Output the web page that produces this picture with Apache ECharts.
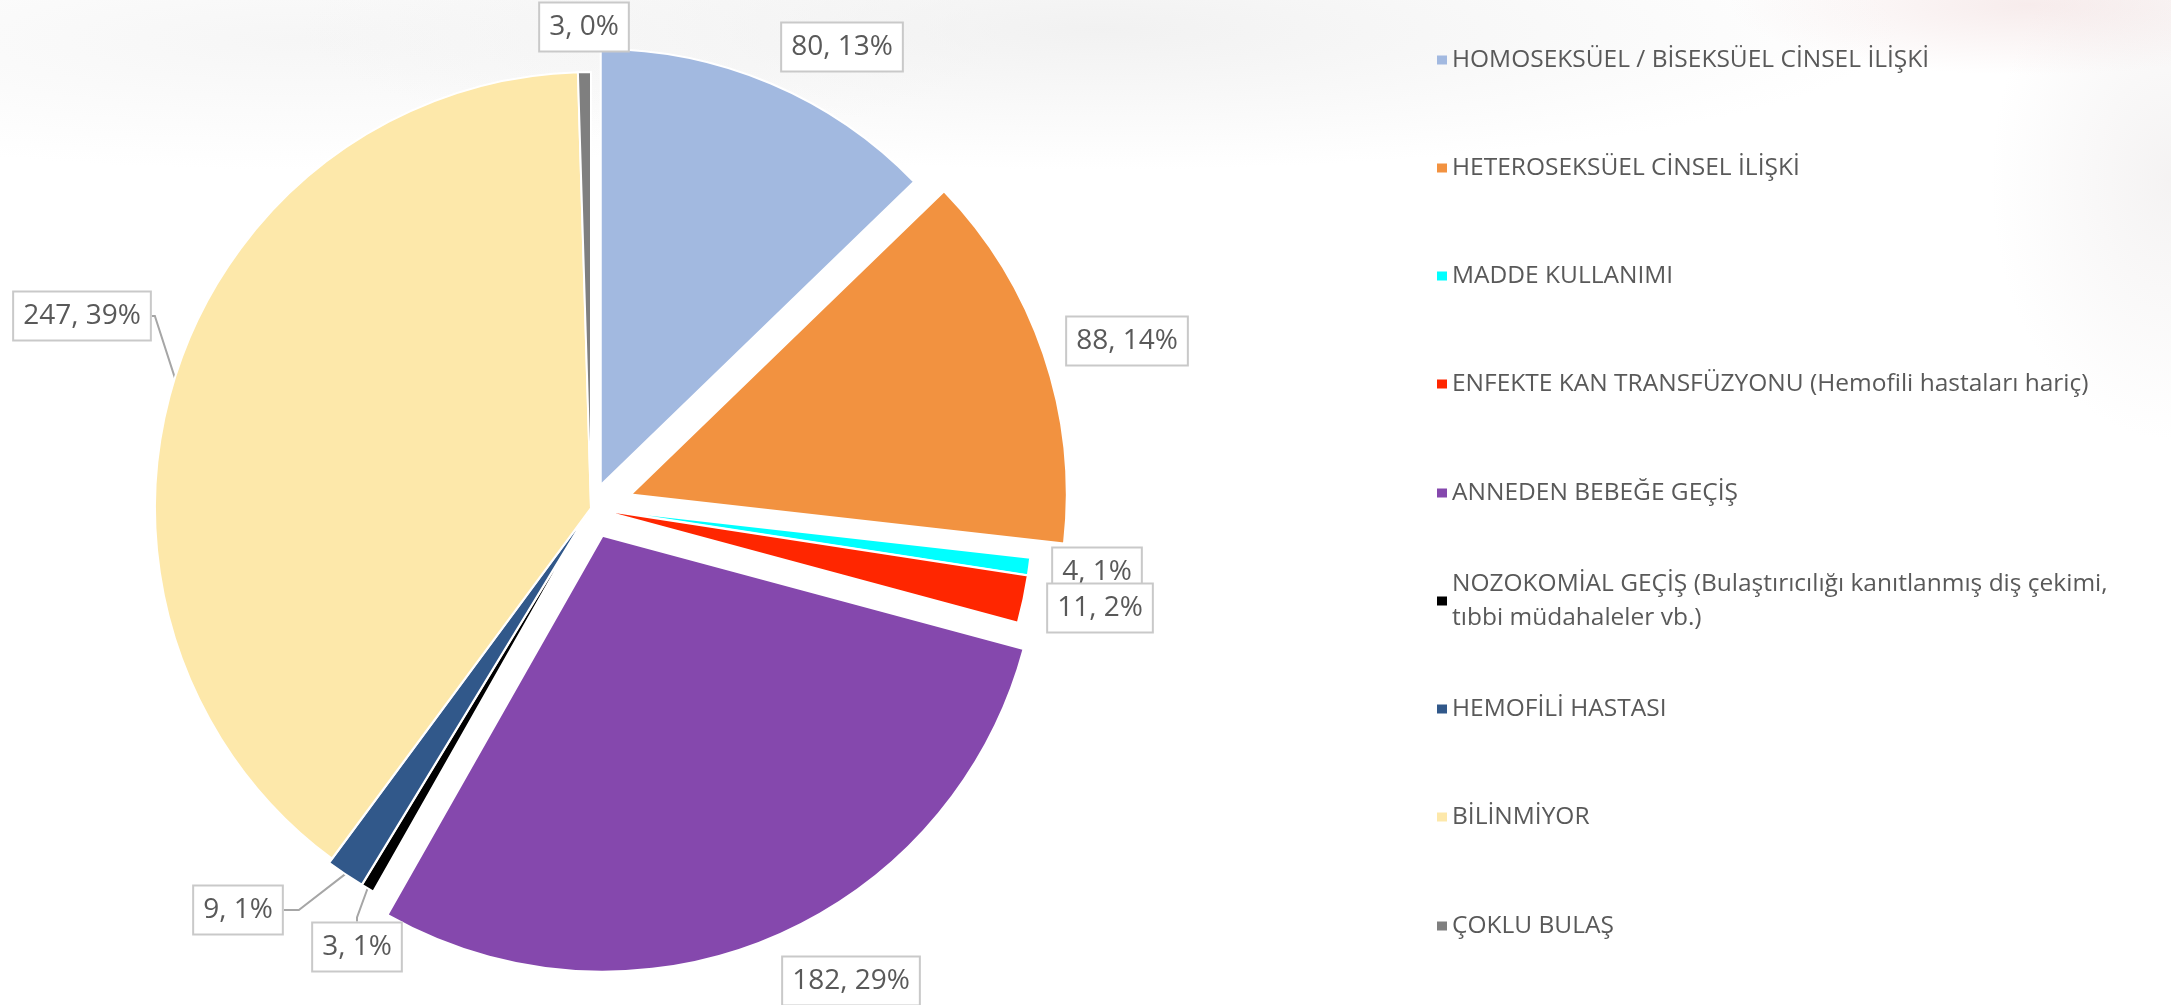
<!DOCTYPE html>
<html>
<head>
<meta charset="utf-8">
<title>Bulaş yolları</title>
<script src="https://cdn.jsdelivr.net/npm/echarts@6/dist/echarts.min.js"></script>
<style>
  html, body {
    margin: 0;
    padding: 0;
  }
  body {
    width: 2171px;
    height: 1005px;
    overflow: hidden;
    /* slayt arka planındaki soluk lekeler */
    background:
      radial-gradient(ellipse 800px 140px at 1100px 30px, rgba(228, 228, 228, 0.5), rgba(255, 255, 255, 0)),
      radial-gradient(ellipse 700px 130px at 300px 40px, rgba(235, 235, 235, 0.45), rgba(255, 255, 255, 0)),
      radial-gradient(ellipse 300px 70px at 2030px 5px, rgba(232, 200, 200, 0.35), rgba(255, 255, 255, 0)),
      radial-gradient(ellipse 180px 260px at 2171px 180px, rgba(225, 220, 220, 0.35), rgba(255, 255, 255, 0)),
      #ffffff;
  }
  #chart {
    width: 2171px;
    height: 1005px;
  }
</style>
</head>
<body>
<div id="chart"></div>
<script>
// bulaş yolları (legend sırası)
const categories = [
  "HOMOSEKSÜEL / BİSEKSÜEL CİNSEL İLİŞKİ",
  "HETEROSEKSÜEL CİNSEL İLİŞKİ",
  "MADDE KULLANIMI",
  "ENFEKTE KAN TRANSFÜZYONU (Hemofili hastaları hariç)",
  "ANNEDEN BEBEĞE GEÇİŞ",
  "NOZOKOMİAL GEÇİŞ (Bulaştırıcılığı kanıtlanmış diş çekimi, tıbbi müdahaleler vb.)",
  "HEMOFİLİ HASTASI",
  "BİLİNMİYOR",
  "ÇOKLU BULAŞ",
];
// vaka sayıları
const values = [80, 88, 4, 11, 182, 3, 9, 247, 3];
// etiketlerdeki yüzdeler (resimde yazdığı gibi)
const percentLabels = ["13%", "14%", "1%", "2%", "29%", "1%", "1%", "39%", "0%"];

// dilim renkleri
const colors = [
  "#a2b9e0", "#f29240", "#00ffff", "#ff2600", "#8548ad",
  "#000000", "#31588a", "#fde8aa", "#7f7f7f",
];
// dilimlerin dışarı çekilme miktarı (px)
const explodeOffset = [25, 42, 6, 6, 30, 5, 5, 0, 0];
// kılavuz çizgisi olan etiketler ve yatay parça uzunluğu
const hasLeader = [false, false, false, false, false, true, true, true, false];
const leaderLength2 = [0, 0, 0, 0, 0, 4, 15, 3, 0];
// etiket kutularının merkezleri
const labelPos = [
  [842, 47], [1127, 341], [1097, 572], [1100, 608], [851, 981],
  [357, 947], [238, 910], [82, 316], [584, 27],
];
// legend ikonlarının dikey merkezleri
const legendIconY = [60, 168, 276, 384, 493, 601, 709, 817, 926];

const CX = 591;
const CY = 508;
const RADIUS = 436;
const FONT = "'Open Sans', sans-serif";
const TEXT_COLOR = "#595959";

// her dilimin orta açısı (saat 12'den saat yönünde)
const total = values.reduce((a, b) => a + b, 0);
let acc = 0;
const midAngles = values.map((v) => {
  const mid = ((acc + v / 2) / total) * 2 * Math.PI;
  acc += v;
  return mid;
});

/**
 * k. dilim için veri: sadece o dilim görünür, diğerleri şeffaf
 */
const makeData = (k) =>
  categories.map((name, i) => {
    if (i !== k) {
      return {
        name,
        value: values[i],
        itemStyle: { color: "rgba(0,0,0,0)", borderWidth: 0 },
        label: { show: false },
        labelLine: { show: false },
        emphasis: { disabled: true },
      };
    }
    return {
      name,
      value: values[i],
      itemStyle: { color: colors[i] },
      labelLine: { show: hasLeader[i], length2: leaderLength2[i] },
    };
  });

const baseSeries = {
  type: "pie",
  radius: RADIUS,
  startAngle: 90,
  clockwise: true,
  avoidLabelOverlap: false,
  itemStyle: { borderColor: "#ffffff", borderWidth: 2 },
  emphasis: { scale: false },
  label: {
    show: true,
    position: "outside",
    formatter: (p) => `${p.value}, ${percentLabels[p.dataIndex]}`,
    color: TEXT_COLOR,
    fontFamily: FONT,
    fontSize: 28,
    lineHeight: 33,
    backgroundColor: "#ffffff",
    borderColor: "#c9c9c9",
    borderWidth: 2,
    padding: [7, 9, 7, 9],
  },
  labelLine: {
    show: true,
    length: 10,
    length2: 15,
    lineStyle: { color: "#a6a6a6", width: 2 },
  },
  labelLayout: (p) => {
    const pos = labelPos[p.dataIndex];
    return { x: pos[0], y: pos[1], align: "center", verticalAlign: "middle" };
  },
};

// her dilim ayrı seri: merkezi kendi orta açısı yönünde kaydırılır
const series = categories.map((name, k) => ({
  ...baseSeries,
  name,
  center: [
    CX + explodeOffset[k] * Math.sin(midAngles[k]),
    CY - explodeOffset[k] * Math.cos(midAngles[k]),
  ],
  data: makeData(k),
}));

// her kategori için ayrı legend (NOZOKOMİAL iki satır)
const legendText = (name) => name.replace("çekimi, ", "çekimi,\n");
const legends = categories.map((name, i) => {
  const twoLine = legendText(name) !== name;
  return {
    data: [{ name, itemStyle: { color: colors[i], borderWidth: 0 } }],
    orient: "vertical",
    left: 1437,
    top: legendIconY[i] - (twoLine ? 58 : 24),
    padding: 0,
    icon: "rect",
    itemWidth: 10,
    itemHeight: 9,
    selectedMode: false,
    formatter: legendText,
    textStyle: {
      color: TEXT_COLOR,
      fontFamily: FONT,
      fontSize: 24.5,
      lineHeight: 34,
      padding: twoLine ? [48, 0, 0, 0] : [14, 0, 0, 0],
    },
  };
});

const myChart = echarts.init(document.getElementById("chart"));

const option = {
  backgroundColor: "transparent",
  animation: false,
  legend: legends,
  series,
};

myChart.setOption(option);

window.addEventListener("resize", function () {
  myChart.resize();
});
</script>
</body>
</html>
